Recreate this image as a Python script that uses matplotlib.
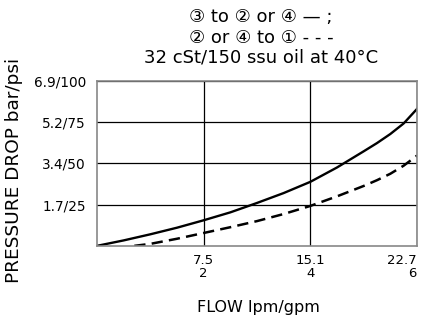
import matplotlib.pyplot as plt

# flow in gpm, pressure drop in psi
flow_a = [0, 0.5, 1, 1.5, 2, 2.5, 3, 3.5, 4, 4.5, 5, 5.25, 5.5, 5.75, 6]
drop_a = [0, 3.3, 7, 11, 15.5, 20.3, 26, 32, 38.8, 47.5, 57.3, 62.3, 67.8, 74.2, 83]

flow_b = [0.7, 1, 1.5, 2, 2.5, 3, 3.5, 4, 4.5, 5, 5.25, 5.5, 5.75, 6]
drop_b = [0, 1.2, 4.3, 7.8, 11.3, 15, 19.3, 24.2, 30, 36.3, 39.8, 43.7, 48.6, 54.7]

x_ticks = [2, 4, 6]
x_labels = ['7.5\n2', '15.1\n4', '22.7\n6']
y_ticks = [25, 50, 75, 100]
y_labels = ['1.7/25', '3.4/50', '5.2/75', '6.9/100']

fig = plt.figure(figsize=(4.33, 3.16), dpi=100)
ax = fig.add_axes([0.224, 0.222, 0.739, 0.522])

ax.plot(flow_a, drop_a, color='black', lw=1.7)
ax.plot(flow_b, drop_b, color='black', lw=1.8, dashes=(4.5, 2.5))

ax.set_xlim(0, 6)
ax.set_ylim(0, 100)

ax.set_xticks(x_ticks)
ax.set_xticklabels(x_labels, fontsize=9.5, linespacing=0.95)
ax.get_xticklabels()[-1].set_ha('right')
ax.get_xticklabels()[-1].set_multialignment('right')
ax.set_yticks(y_ticks)
ax.set_yticklabels(y_labels, fontsize=9.8)
ax.tick_params(length=0)
ax.tick_params(axis='x', pad=6)
ax.tick_params(axis='y', pad=8)

ax.grid(True, color='black', lw=0.9)
for s in ax.spines.values():
    s.set_color('#888888')
    s.set_linewidth(1.2)

fig.text(258 / 433, 1 - 300 / 316, 'FLOW lpm/gpm', fontsize=11.5, ha='center', va='top')
fig.text(0.033, 1 - 170 / 316, 'PRESSURE DROP bar/psi', rotation=90,
         fontsize=13.3, ha='center', va='center')

# title block
fig.text(261 / 433, 1 - 17 / 316, '③ to ② or ④ — ;', fontsize=13, ha='center', va='center')
fig.text(261 / 433, 1 - 38 / 316, '② or ④ to ① - - -', fontsize=13, ha='center', va='center')
fig.text(261 / 433, 1 - 58 / 316, '32 cSt/150 ssu oil at 40°C', fontsize=13, ha='center', va='center')

fig.savefig('out.png', dpi=100)
